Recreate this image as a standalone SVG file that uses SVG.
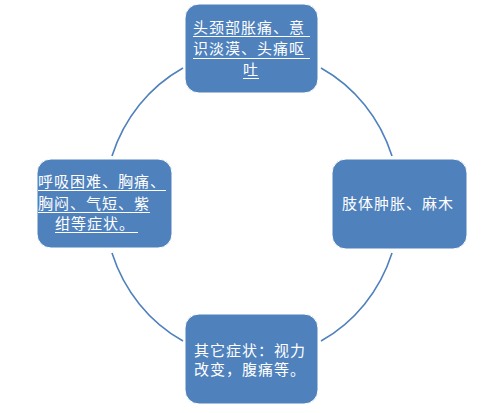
<svg xmlns="http://www.w3.org/2000/svg" width="500" height="413" viewBox="0 0 500 413">
<style>
.box{fill:#4f81bd;stroke:#ffffff;stroke-width:1}
.t{font-family:"Noto Sans CJK SC","Liberation Sans",sans-serif;font-size:15px;fill:#ffffff;letter-spacing:1px}
.u{stroke:#ffffff;stroke-width:1}
.arc{fill:none;stroke:#4f81bd;stroke-width:1.6}
</style>
<rect width="500" height="413" fill="#ffffff"/>
<g id="connectors">
<path class="arc" d="M183,68 A147.5,155.5 0 0 0 112,156"/>
<path class="arc" d="M321,68 A147.5,155.5 0 0 1 392,156"/>
<path class="arc" d="M112,253 A147.5,155.5 0 0 0 183,341"/>
<path class="arc" d="M392,253 A147.5,155.5 0 0 1 321,341"/>
</g>
<g id="node-top">
<rect class="box" x="185" y="4" width="133" height="89" rx="14"/>
<text class="t" x="193" y="33">头颈部胀痛、意</text>
<text class="t" x="193" y="54">识淡漠、头痛呕</text>
<text class="t" x="243" y="75">吐</text>
<line class="u" x1="193" y1="36.5" x2="310" y2="36.5"/>
<line class="u" x1="193" y1="58.5" x2="310" y2="58.5"/>
<line class="u" x1="243" y1="78.5" x2="259" y2="78.5"/>
</g>
<g id="node-right">
<rect class="box" x="332" y="159" width="135" height="90" rx="14"/>
<text class="t" x="342" y="209">肢体肿胀、麻木</text>
</g>
<g id="node-bottom">
<rect class="box" x="185" y="314" width="133" height="90" rx="14"/>
<text class="t" x="194" y="356">其它症状：视力</text>
<text class="t" x="194" y="375">改变，腹痛等。</text>
</g>
<g id="node-left">
<rect class="box" x="37" y="159" width="135" height="89" rx="14"/>
<text class="t" x="38" y="187">呼吸困难、胸痛、</text>
<text class="t" x="38" y="209">胸闷、气短、紫</text>
<text class="t" x="55" y="229">绀等症状。</text>
<line class="u" x1="38" y1="190.5" x2="166" y2="190.5"/>
<line class="u" x1="38" y1="212.5" x2="150" y2="212.5"/>
<line class="u" x1="55" y1="232.5" x2="138" y2="232.5"/>
</g>
</svg>
